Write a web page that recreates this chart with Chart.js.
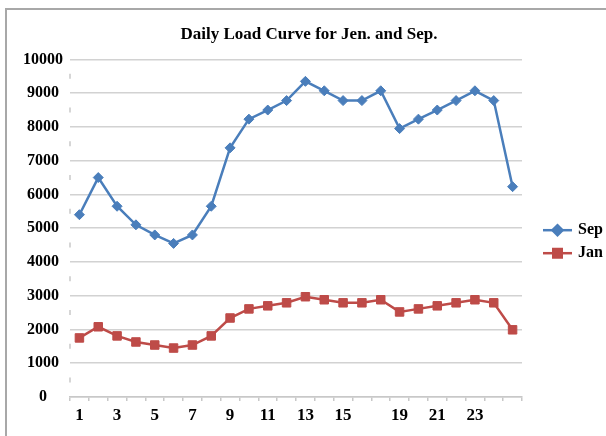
<!DOCTYPE html>
<html>
<head>
<meta charset="utf-8">
<script src="https://cdn.jsdelivr.net/npm/chart.js@4"></script>
<style>
  html, body { margin: 0; background: #fff; overflow: hidden; }
  #wrap { position: relative; width: 606px; height: 436px; overflow: hidden; }
  #frame {
    position: absolute; left: 5px; top: 8px; right: 0; bottom: 0;
    border-left: 2px solid #a8a8a8; border-top: 2px solid #a8a8a8;
  }
  canvas { position: absolute; left: 0; top: 0; }
</style>
</head>
<body>
<div id="wrap">
  <div id="frame"></div>
  <canvas id="chart" width="606" height="436"></canvas>
</div>
<script>
// hours of the day
const hours = ["1","2","3","4","5","6","7","8","9","10","11","12",
  "13","14","15","16","17","18","19","20","21","22","23","24"];
// tick labels as printed under the axis
const xTickLabels = ["1","","3","","5","","7","","9","","11","","13","","15","",
  "","19","","21","","23","",""];

const sepLoad = [5400, 6500, 5650, 5100, 4800, 4550, 4800, 5650, 7380, 8230, 8500, 8780,
  9350, 9070, 8780, 8780, 9070, 7950, 8230, 8500, 8780, 9070, 8780, 6230];
const janLoad = [1750, 2080, 1810, 1630, 1540, 1450, 1540, 1810, 2340, 2610, 2700, 2790,
  2970, 2880, 2790, 2790, 2880, 2520, 2610, 2700, 2790, 2880, 2790, 1990];

const serif = "'Liberation Serif', 'Times New Roman', serif";
const gridGray = "#d2d2d2";

// faint broken line along the y axis
const axisDashes = {
  id: "axisDashes",
  beforeDatasetsDraw(chart) {
    const { ctx, chartArea } = chart;
    const y = chart.scales.y;
    const step = Math.abs(y.getPixelForValue(0) - y.getPixelForValue(1000));
    ctx.save();
    ctx.strokeStyle = "#d6d6d6";
    ctx.lineWidth = 2;
    ctx.setLineDash([5, step - 5]);
    ctx.lineDashOffset = step - step / 2 + 2.5;
    ctx.beginPath();
    ctx.moveTo(chartArea.left, chartArea.top);
    ctx.lineTo(chartArea.left, chartArea.bottom);
    ctx.stroke();
    ctx.restore();
  }
};

// legend with line + marker like the original
const lineLegend = {
  id: "lineLegend",
  afterDraw(chart) {
    const { ctx, chartArea } = chart;
    const mid = (chartArea.top + chartArea.bottom) / 2;
    ctx.save();
    chart.data.datasets.forEach((ds, i) => {
      const y = mid + 2 + i * 23;
      const x0 = chartArea.right + 21;
      ctx.strokeStyle = ds.borderColor;
      ctx.lineWidth = 2.5;
      ctx.beginPath();
      ctx.moveTo(x0, y);
      ctx.lineTo(x0 + 29, y);
      ctx.stroke();
      Chart.helpers.drawPoint(ctx, {
        pointStyle: ds.pointStyle, radius: ds.pointRadius, borderWidth: 1
      }, x0 + 14.5, y);
      ctx.fillStyle = ds.borderColor;
      ctx.fill();
      ctx.fillStyle = "#000";
      ctx.font = "bold 16px " + serif;
      ctx.textBaseline = "middle";
      ctx.textAlign = "left";
      ctx.fillText(ds.label, x0 + 35, y);
    });
    ctx.restore();
  }
};

new Chart(document.getElementById("chart"), {
  type: "line",
  data: {
    labels: hours,
    datasets: [
      {
        label: "Sep",
        data: sepLoad,
        borderColor: "#4a7ebb",
        backgroundColor: "#4a7ebb",
        borderWidth: 2.5,
        pointStyle: "rectRot",
        pointRadius: 5,
        pointBorderWidth: 1,
        tension: 0
      },
      {
        label: "Jan",
        data: janLoad,
        borderColor: "#be4b48",
        backgroundColor: "#be4b48",
        borderWidth: 2.5,
        pointStyle: "rect",
        pointRadius: 6,
        pointBorderWidth: 1,
        tension: 0
      }
    ]
  },
  options: {
    responsive: false,
    animation: false,
    layout: { padding: { left: 12, right: 0, top: 0, bottom: 0 } },
    plugins: {
      legend: { display: false },
      tooltip: { enabled: false },
      title: {
        display: true,
        text: "Daily Load Curve for Jen. and Sep.",
        color: "#000",
        font: { family: serif, size: 17, weight: "bold" },
        padding: { top: 24, bottom: 15 }
      }
    },
    scales: {
      x: {
        type: "category",
        offset: true,
        grid: { offset: true, drawOnChartArea: false, tickLength: 4, color: "#c8c8c8", lineWidth: 1.5 },
        border: { color: "#c8c8c8", width: 1.5 },
        ticks: {
          autoSkip: false, maxRotation: 0, padding: 4, color: "#000",
          font: { family: serif, size: 17, weight: "bold" },
          callback: (v, i) => xTickLabels[i]
        },
        afterFit(s) { s.height = 39; }
      },
      y: {
        min: 0,
        max: 10000,
        grid: { color: gridGray, lineWidth: 1.5, drawTicks: false },
        border: { display: false },
        ticks: {
          stepSize: 1000, padding: 7, crossAlign: "center", color: "#000",
          font: { family: serif, size: 16, weight: "bold" },
          callback: v => String(v)
        },
        afterFit(s) { s.width = 58; }
      },
      yR: {
        type: "linear",
        position: "right",
        grid: { display: false },
        border: { display: false },
        ticks: { display: false },
        afterFit(s) { s.width = 84; }
      }
    }
  },
  plugins: [axisDashes, lineLegend]
});
</script>
</body>
</html>
